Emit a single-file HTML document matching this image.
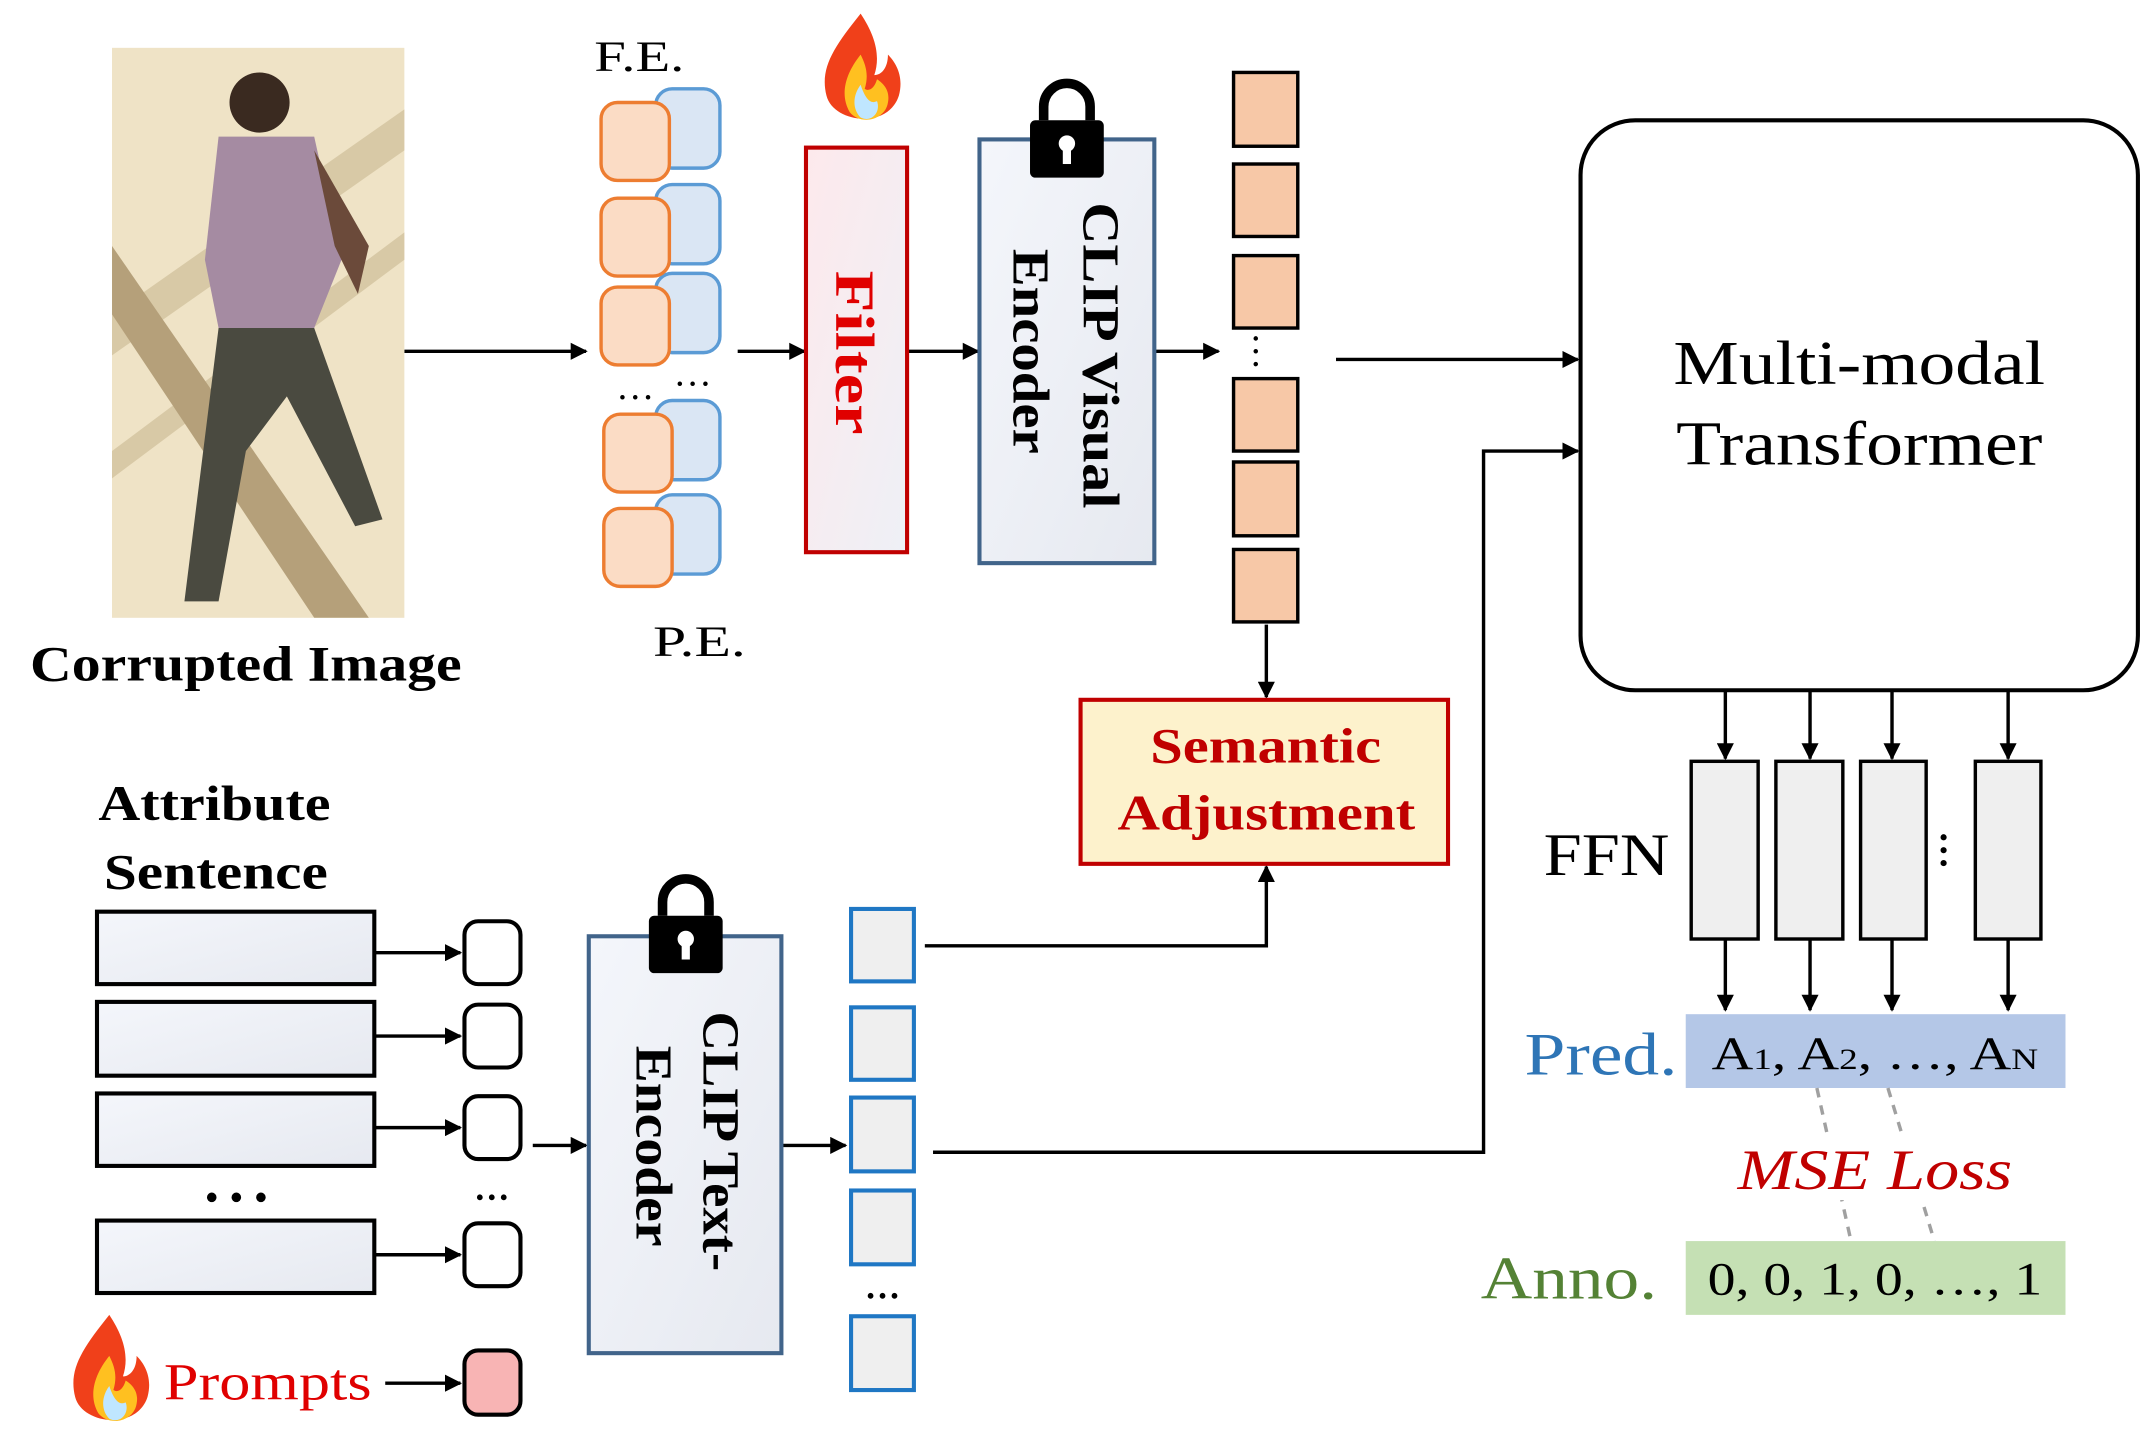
<!DOCTYPE html>
<html><head><meta charset="utf-8"><style>
html,body{margin:0;padding:0;background:#fff;}
svg{display:block;}
text{font-family:"Liberation Serif",serif;}
</style></head><body>
<svg width="2142" height="1442" viewBox="0 0 1568 1055" preserveAspectRatio="none" xmlns="http://www.w3.org/2000/svg">
<defs>
<marker id="ar" viewBox="0 0 10 10" refX="9" refY="5" markerWidth="5" markerHeight="5" orient="auto"><path d="M0,0 L10,5 L0,10 z" fill="#000"/></marker>
<linearGradient id="gf" x1="0" y1="0" x2="1" y2="1"><stop offset="0" stop-color="#fde9ec"/><stop offset="1" stop-color="#eef0f6"/></linearGradient>
<linearGradient id="gs" x1="0" y1="0" x2="1" y2="1"><stop offset="0" stop-color="#f4f6fb"/><stop offset="1" stop-color="#e6e9f0"/></linearGradient>
<g id="fire"><path d="M30,0 C10,25 0,40 5,60 C10,80 50,85 58,60 C62,45 55,35 50,30 C50,40 45,45 40,45 C45,30 40,15 30,0 z" fill="#f0401a"/><path d="M30,30 C18,45 15,60 22,72 C30,82 48,78 50,65 C52,55 45,50 42,48 C40,55 36,57 33,55 C36,45 34,38 30,30 z" fill="#ffc020"/><path d="M30,52 C24,60 24,70 30,76 C38,80 45,72 42,64 C38,66 34,64 30,52z" fill="#bfe6ff"/></g>
<g id="lock"><path d="M12,28 V18 A17,17 0 0 1 46,18 V28" fill="none" stroke="#000" stroke-width="7"/><rect x="2" y="28" width="54" height="42" rx="4" fill="#000"/><circle cx="29" cy="45" r="6" fill="#fff"/><rect x="26" y="46" width="6" height="14" fill="#fff"/></g>
</defs>
<g stroke="#000" stroke-width="2.5" fill="none" marker-end="url(#ar)">
<line x1="296" y1="257" x2="429" y2="257"/>
<line x1="540" y1="257" x2="589" y2="257"/>
<line x1="664" y1="257" x2="716" y2="257"/>
<line x1="845" y1="257" x2="892" y2="257"/>
<line x1="978" y1="263" x2="1155" y2="263"/>
<line x1="927" y1="457" x2="927" y2="510"/>
<polyline points="677,692 927,692 927,634"/>
<polyline points="683,843 1086,843 1086,330 1155,330"/>
<line x1="1263" y1="505" x2="1263" y2="555"/>
<line x1="1325" y1="505" x2="1325" y2="555"/>
<line x1="1385" y1="505" x2="1385" y2="555"/>
<line x1="1470" y1="505" x2="1470" y2="555"/>
<line x1="1263" y1="687" x2="1263" y2="739"/>
<line x1="1325" y1="687" x2="1325" y2="739"/>
<line x1="1385" y1="687" x2="1385" y2="739"/>
<line x1="1470" y1="687" x2="1470" y2="739"/>
<line x1="274" y1="697" x2="337" y2="697"/>
<line x1="274" y1="758" x2="337" y2="758"/>
<line x1="274" y1="825" x2="337" y2="825"/>
<line x1="274" y1="918" x2="337" y2="918"/>
<line x1="282" y1="1012" x2="337" y2="1012"/>
<line x1="390" y1="838" x2="429" y2="838"/>
<line x1="572" y1="838" x2="619" y2="838"/>
</g>
<rect x="82" y="35" width="214" height="417" fill="#efe3c6"/>
<path d="M82,230 L296,80 L296,110 L82,260z M82,330 L296,170 L296,190 L82,350z" fill="#d8c9a6"/>
<path d="M82,230 L230,452 L270,452 L82,180z" fill="#b5a07a"/>
<circle cx="190" cy="75" r="22" fill="#3a2a20"/>
<path d="M160,100 L230,100 L250,190 L230,240 L160,240 L150,190z" fill="#a58ba2"/>
<path d="M160,240 L230,240 L280,380 L260,385 L210,290 L180,330 L160,440 L135,440 L150,320z" fill="#4a4a40"/>
<path d="M230,110 L270,180 L262,215 L245,180z" fill="#6b4a3a"/>
<text x="22" y="498" font-size="36" font-weight="bold" textLength="316" lengthAdjust="spacingAndGlyphs">Corrupted Image</text>
<text x="435" y="52" font-size="32" textLength="66" lengthAdjust="spacingAndGlyphs">F.E.</text>
<text x="478" y="480" font-size="32" textLength="68" lengthAdjust="spacingAndGlyphs">P.E.</text>
<g stroke-width="2.5">
<g fill="#dae6f4" stroke="#5b9bd5">
<rect x="480" y="65" width="47" height="58" rx="12"/><rect x="480" y="135" width="47" height="58" rx="12"/><rect x="480" y="200" width="47" height="58" rx="12"/><rect x="480" y="293" width="47" height="58" rx="12"/><rect x="480" y="362" width="47" height="58" rx="12"/>
</g>
<g fill="#fbdcc5" stroke="#ed7d31">
<rect x="440" y="75" width="50" height="57" rx="12"/><rect x="440" y="145" width="50" height="57" rx="12"/><rect x="440" y="210" width="50" height="57" rx="12"/><rect x="442" y="303" width="50" height="57" rx="12"/><rect x="442" y="372" width="50" height="57" rx="12"/>
</g></g>
<text x="465" y="292" font-size="28" text-anchor="middle">…</text>
<text x="507" y="282" font-size="28" text-anchor="middle">…</text>
<use href="#fire" x="600" y="10"/>
<rect x="590" y="108" width="74" height="296" fill="url(#gf)" stroke="#c00000" stroke-width="3"/>
<text transform="translate(612,198) rotate(90)" font-size="40" font-weight="bold" fill="#e00000" textLength="120" lengthAdjust="spacingAndGlyphs">Filter</text>
<rect x="717" y="102" width="128" height="310" fill="url(#gs)" stroke="#41648a" stroke-width="3"/>
<use href="#lock" x="752" y="60"/>
<text transform="translate(793,148) rotate(90)" font-size="38" font-weight="bold" textLength="224" lengthAdjust="spacingAndGlyphs">CLIP Visual</text>
<text transform="translate(742,182) rotate(90)" font-size="38" font-weight="bold" textLength="150" lengthAdjust="spacingAndGlyphs">Encoder</text>
<g fill="#f7c8a7" stroke="#000" stroke-width="2.5">
<rect x="903" y="53" width="47" height="54"/><rect x="903" y="120" width="47" height="53"/><rect x="903" y="187" width="47" height="53"/><rect x="903" y="277" width="47" height="53"/><rect x="903" y="338" width="47" height="54"/><rect x="903" y="402" width="47" height="53"/>
</g>
<text transform="translate(918,257) rotate(90)" font-size="28" text-anchor="middle">…</text>
<rect x="1157" y="88" width="408" height="417" rx="40" fill="#fff" stroke="#000" stroke-width="3"/>
<text x="1225" y="281" font-size="46" textLength="272" lengthAdjust="spacingAndGlyphs">Multi-modal</text>
<text x="1227" y="340" font-size="46" textLength="268" lengthAdjust="spacingAndGlyphs">Transformer</text>
<rect x="791" y="512" width="269" height="120" fill="#fdf2cc" stroke="#c00000" stroke-width="3"/>
<text x="842" y="558" font-size="36" font-weight="bold" fill="#c00000" textLength="169" lengthAdjust="spacingAndGlyphs">Semantic</text>
<text x="818" y="607" font-size="36" font-weight="bold" fill="#c00000" textLength="218" lengthAdjust="spacingAndGlyphs">Adjustment</text>
<text x="1130" y="640" font-size="44" textLength="92" lengthAdjust="spacingAndGlyphs">FFN</text>
<g fill="#efefef" stroke="#000" stroke-width="2.5">
<rect x="1238" y="557" width="49" height="130"/><rect x="1300" y="557" width="49" height="130"/><rect x="1362" y="557" width="48" height="130"/><rect x="1446" y="557" width="48" height="130"/>
</g>
<text transform="translate(1421,622) rotate(90)" font-size="28" font-weight="bold" text-anchor="middle">…</text>
<rect x="1234" y="742" width="278" height="54" fill="#b4c7e7"/>
<text x="1116" y="786" font-size="44" fill="#2e75b6" textLength="112" lengthAdjust="spacingAndGlyphs">Pred.</text>
<text x="1253" y="782" font-size="34" textLength="239" lengthAdjust="spacingAndGlyphs">A<tspan font-size="22">1</tspan>, A<tspan font-size="22">2</tspan>, …, A<tspan font-size="22">N</tspan></text>
<g stroke="#a0a0a0" stroke-width="2.5" stroke-dasharray="7,6"><line x1="1330" y1="796" x2="1355" y2="908"/><line x1="1382" y1="796" x2="1416" y2="908"/></g>
<rect x="1262" y="830" width="215" height="48" fill="#fff"/>
<text x="1272" y="870" font-size="42" font-style="italic" fill="#c00000" textLength="201" lengthAdjust="spacingAndGlyphs">MSE Loss</text>
<rect x="1234" y="908" width="278" height="54" fill="#c5e0b4"/>
<text x="1084" y="950" font-size="44" fill="#548235" textLength="129" lengthAdjust="spacingAndGlyphs">Anno.</text>
<text x="1250" y="947" font-size="34" textLength="245" lengthAdjust="spacingAndGlyphs">0, 0, 1, 0, …, 1</text>
<text x="72" y="600" font-size="36" font-weight="bold" textLength="170" lengthAdjust="spacingAndGlyphs">Attribute</text>
<text x="76" y="650" font-size="36" font-weight="bold" textLength="164" lengthAdjust="spacingAndGlyphs">Sentence</text>
<g fill="url(#gs)" stroke="#000" stroke-width="3">
<rect x="71" y="667" width="203" height="53"/><rect x="71" y="733" width="203" height="54"/><rect x="71" y="800" width="203" height="53"/><rect x="71" y="893" width="203" height="53"/>
</g>
<g fill="#000"><circle cx="155" cy="876" r="3.5"/><circle cx="173" cy="876" r="3.5"/><circle cx="191" cy="876" r="3.5"/></g>
<g fill="#fff" stroke="#000" stroke-width="3">
<rect x="340" y="674" width="41" height="46" rx="10"/><rect x="340" y="735" width="41" height="46" rx="10"/><rect x="340" y="802" width="41" height="46" rx="10"/><rect x="340" y="895" width="41" height="46" rx="10"/>
</g>
<text x="360" y="878" font-size="26" font-weight="bold" text-anchor="middle">…</text>
<use href="#fire" x="50" y="962"/>
<text x="120" y="1024" font-size="38" fill="#e00000" textLength="152" lengthAdjust="spacingAndGlyphs">Prompts</text>
<rect x="340" y="988" width="41" height="47" rx="10" fill="#f8b4b4" stroke="#000" stroke-width="3"/>
<rect x="431" y="685" width="141" height="305" fill="url(#gs)" stroke="#41648a" stroke-width="3"/>
<use href="#lock" x="473" y="642"/>
<text transform="translate(515,740) rotate(90)" font-size="38" font-weight="bold" textLength="190" lengthAdjust="spacingAndGlyphs">CLIP Text-</text>
<text transform="translate(466,765) rotate(90)" font-size="38" font-weight="bold" textLength="147" lengthAdjust="spacingAndGlyphs">Encoder</text>
<g fill="#efefef" stroke="#1f77c4" stroke-width="3">
<rect x="623" y="665" width="46" height="53"/><rect x="623" y="737" width="46" height="53"/><rect x="623" y="803" width="46" height="54"/><rect x="623" y="871" width="46" height="54"/><rect x="623" y="963" width="46" height="54"/>
</g>
<text x="646" y="950" font-size="26" font-weight="bold" text-anchor="middle">…</text>
</svg>
</body></html>
